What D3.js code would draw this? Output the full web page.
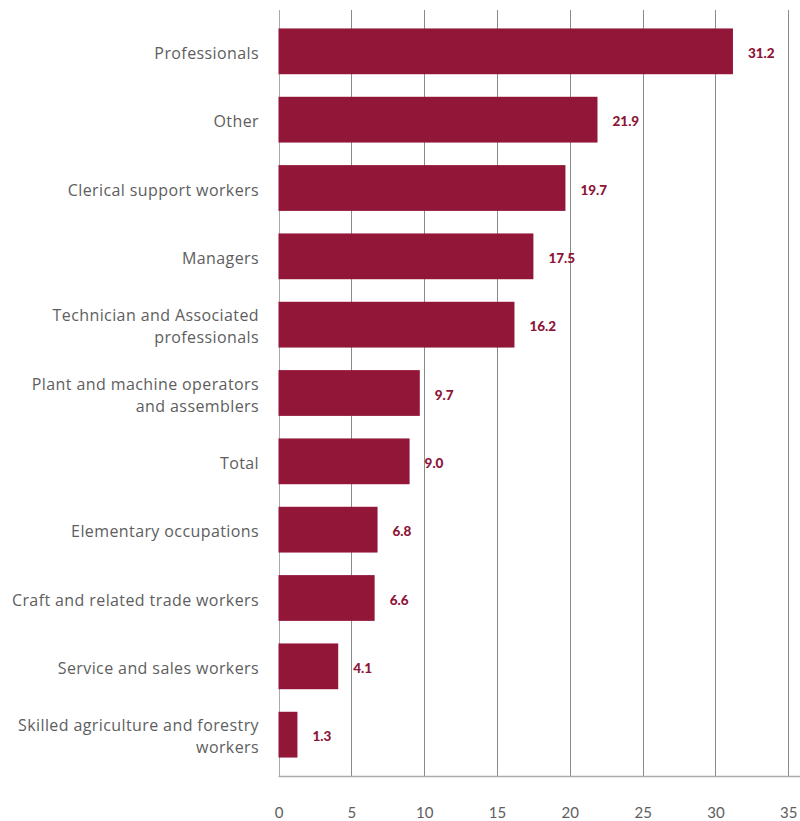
<!DOCTYPE html>
<html>
<head>
<meta charset="utf-8">
<script src="https://cdn.jsdelivr.net/npm/d3@7"></script>
<style>
  html, body { margin: 0; padding: 0; background: #fff; }
  svg { display: block; }
</style>
</head>
<body>
<svg id="chart" width="800" height="821"></svg>
<script>
// Share by occupation group, sorted from largest to smallest
const categories = [
  "Professionals",
  "Other",
  "Clerical support workers",
  "Managers",
  "Technician and Associated|professionals",
  "Plant and machine operators|and assemblers",
  "Total",
  "Elementary occupations",
  "Craft and related trade workers",
  "Service and sales workers",
  "Skilled agriculture and forestry|workers"
];
const values = [31.2, 21.9, 19.7, 17.5, 16.2, 9.7, 9.0, 6.8, 6.6, 4.1, 1.3];
const tickValues = [0, 5, 10, 15, 20, 25, 30, 35];

const data = categories.map((c, i) => ({ key: c, value: values[i] }));

const svg = d3.select("#chart");
const font = "Lato, 'Open Sans', sans-serif";
const labelFont = "'Open Sans', Lato, sans-serif";
const barColor = "#921638";
const gridColor = "#8a8a8a";
const textColor = "#5e5e5e";

const x = d3.scaleLinear().domain([0, 35]).range([278.5, 788.3]);
const y = d3.scaleBand()
  .domain(categories)
  .range([10, 776])
  .paddingInner(0.33)
  .paddingOuter(0.27);

// Vertical gridlines
svg.append("g")
  .selectAll("line")
  .data(tickValues)
  .join("line")
  .attr("x1", d => Math.round(x(d)) + 0.5)
  .attr("x2", d => Math.round(x(d)) + 0.5)
  .attr("y1", 10)
  .attr("y2", 776)
  .attr("stroke", d => d === 0 ? "#aaaaaa" : gridColor)
  .attr("stroke-width", 1);

// Baseline along the bottom
svg.append("line")
  .attr("x1", x(0))
  .attr("x2", 800)
  .attr("y1", 776.5)
  .attr("y2", 776.5)
  .attr("stroke", "#aaaaaa")
  .attr("stroke-width", 1.5);

// X axis tick labels
const xAxis = d3.axisBottom(x).tickValues(tickValues).tickSize(0).tickPadding(0);
const gx = svg.append("g").attr("transform", "translate(0,818)").call(xAxis);
gx.select(".domain").remove();
gx.selectAll("text")
  .attr("dy", 0)
  .attr("y", 0)
  .attr("fill", textColor)
  .attr("font-family", font)
  .attr("font-size", 15);

// Bars
svg.append("g")
  .selectAll("rect")
  .data(data)
  .join("rect")
  .attr("x", x(0))
  .attr("y", d => y(d.key))
  .attr("width", d => x(d.value) - x(0))
  .attr("height", y.bandwidth())
  .attr("fill", barColor);

// Value labels
svg.append("g")
  .selectAll("text")
  .data(data)
  .join("text")
  .attr("x", d => x(d.value) + 15)
  .attr("y", d => y(d.key) + y.bandwidth() / 2 + 2)
  .attr("dy", "0.35em")
  .attr("fill", "#8c1538")
  .attr("font-family", font)
  .attr("font-weight", 900)
  .attr("font-size", 13.5)
  .text(d => d.value.toFixed(1));

// Category labels (right-aligned, wrapped on "|")
const cat = svg.append("g")
  .selectAll("text")
  .data(data)
  .join("text")
  .attr("text-anchor", "end")
  .attr("fill", textColor)
  .attr("font-family", labelFont)
  .attr("font-size", 16)
  .attr("letter-spacing", 0.4);

cat.each(function(d) {
  const lines = d.key.split("|");
  const cy = y(d.key) + y.bandwidth() / 2 + 2;
  const lh = 22;
  const t = d3.select(this);
  lines.forEach((ln, i) => {
    t.append("tspan")
      .attr("x", 259)
      .attr("y", cy + (i - (lines.length - 1) / 2) * lh)
      .attr("dy", "0.35em")
      .text(ln);
  });
});
</script>
</body>
</html>
